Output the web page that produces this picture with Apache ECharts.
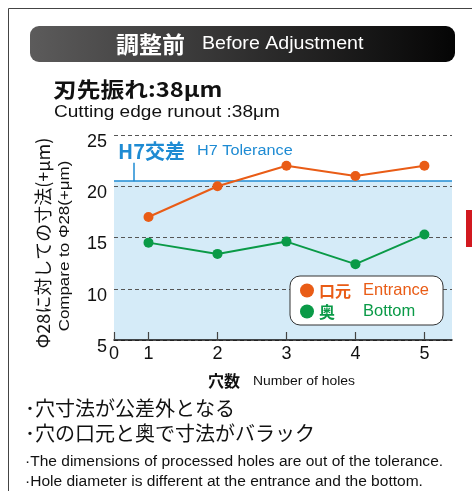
<!DOCTYPE html>
<html>
<head>
<meta charset="utf-8">
<script src="https://cdn.jsdelivr.net/npm/echarts@6/dist/echarts.min.js"></script>
<style>
  html, body { margin: 0; padding: 0; background: #fff; }
  #chart { width: 472px; height: 491px; }
</style>
</head>
<body>
<div id="chart"></div>
<script>
// Hole number along the x axis
const holes = [1, 2, 3, 4, 5];
// Diameter relative to Φ28 (+μm), measured at the hole entrance and at the bottom
const entranceValues = [17, 20, 22, 21, 22];
const bottomValues = [14.5, 13.4, 14.6, 12.4, 15.3];
// H7 tolerance band upper limit (+μm)
const h7Upper = 20.5;
// Axis ranges and tick labels
const xTickValues = [0.5, 1, 2, 3, 4, 5];
const xTickLabels = ['0', '1', '2', '3', '4', '5'];
const yTicks = [5, 10, 15, 20, 25];

const JP = '"Noto Sans CJK JP", sans-serif';
const EN = '"Liberation Sans", Arial, sans-serif';
const ORANGE = '#e95c16';
const GREEN = '#0a9a47';
const BLUE = '#1e8bd3';
const INK = '#111';

const chart = echarts.init(document.getElementById('chart'), null, { renderer: 'canvas' });

// left-aligned, vertically centred text with optional horizontal stretch
function label(x, y, text, size, opts) {
  opts = opts || {};
  return {
    type: 'text', x: x, y: y, z: opts.z || 1,
    scaleX: opts.sx || 1,
    rotation: opts.rot || 0,
    style: {
      text: text, fill: opts.color || INK, fontSize: size,
      fontFamily: opts.font || EN, fontWeight: opts.bold ? 'bold' : 'normal',
      align: opts.align || 'left', verticalAlign: 'middle'
    }
  };
}

const option = {
  backgroundColor: '#fff',
  animation: false,
  grid: { left: 114, right: 20, top: 135, bottom: 151, containLabel: false },
  xAxis: {
    type: 'value',
    min: 0.5,
    max: 5.4,
    z: 4,
    axisLine: { show: true, lineStyle: { color: '#111', width: 1.5 } },
    axisTick: {
      show: true, inside: true, length: 8,
      customValues: xTickValues,
      lineStyle: { color: '#444', width: 1.2 }
    },
    axisLabel: {
      customValues: xTickValues,
      formatter: v => xTickLabels[xTickValues.indexOf(v)] ?? '',
      fontSize: 18, color: INK, fontFamily: EN, margin: 5
    },
    splitLine: { show: false }
  },
  yAxis: {
    type: 'value',
    min: yTicks[0],
    max: yTicks[yTicks.length - 1],
    interval: 5,
    z: 3,
    axisLine: { show: false },
    axisTick: { show: false },
    axisLabel: {
      fontSize: 18, color: INK, fontFamily: EN,
      margin: 7, verticalAlign: 'top', lineHeight: 14
    },
    splitLine: { show: true, lineStyle: { color: '#555', width: 1, type: [4, 3] } }
  },
  legend: {
    left: 290, top: 276,
    orient: 'vertical',
    icon: 'circle',
    itemWidth: 14, itemHeight: 14, itemGap: 4,
    padding: [6, 14, 5, 10],
    backgroundColor: '#fff',
    borderColor: '#333', borderWidth: 1, borderRadius: 10,
    selectedMode: false,
    z: 10,
    data: ['口元', '奥'],
    formatter: n => n === '口元' ? '{oj|口元}{oe|Entrance}' : '{gj|奥}{ge|Bottom}',
    textStyle: {
      lineHeight: 16,
      rich: {
        oj: { color: ORANGE, fontSize: 16, fontWeight: 'bold', fontFamily: JP, width: 44 },
        oe: { color: ORANGE, fontSize: 16.5, fontFamily: EN },
        gj: { color: GREEN, fontSize: 16, fontWeight: 'bold', fontFamily: JP, width: 44 },
        ge: { color: GREEN, fontSize: 16.5, fontFamily: EN }
      }
    }
  },
  series: [
    {
      // tolerance band and its upper limit
      name: 'H7',
      type: 'scatter',
      data: [],
      z: 1,
      silent: true,
      markArea: {
        silent: true,
        itemStyle: { color: '#d5ebf8' },
        data: [[{ xAxis: 0.5, yAxis: yTicks[0] }, { xAxis: 5.4, yAxis: h7Upper }]]
      },
      markLine: {
        silent: true,
        symbol: 'none',
        label: { show: false },
        lineStyle: { color: BLUE, width: 1.5, type: 'solid' },
        data: [
          [{ coord: [0.5, h7Upper] }, { coord: [5.4, h7Upper] }],
          [{ coord: [0.78, h7Upper] }, { coord: [0.78, 22.3] }]
        ]
      }
    },
    {
      name: '口元',
      type: 'line',
      z: 5,
      data: holes.map((h, i) => [h, entranceValues[i]]),
      symbol: 'circle', symbolSize: 10,
      itemStyle: { color: ORANGE },
      lineStyle: { color: ORANGE, width: 2 }
    },
    {
      name: '奥',
      type: 'line',
      z: 5,
      data: holes.map((h, i) => [h, bottomValues[i]]),
      symbol: 'circle', symbolSize: 10,
      itemStyle: { color: GREEN },
      lineStyle: { color: GREEN, width: 2 }
    }
  ],
  graphic: [
    // outer frame
    { type: 'rect', z: 0, shape: { x: 8.5, y: 8.5, width: 600, height: 600 },
      style: { fill: 'none', stroke: '#444', lineWidth: 1 } },
    // red side marker
    { type: 'rect', z: 0, shape: { x: 466, y: 210, width: 8, height: 37 },
      style: { fill: '#d21920' } },
    // header bar
    { type: 'rect', z: 0, shape: { x: 30, y: 26, width: 425, height: 36, r: 9 },
      style: {
        fill: new echarts.graphic.LinearGradient(0, 0, 1, 0, [
          { offset: 0, color: '#5c5b5b' }, { offset: 1, color: '#050505' }
        ])
      } },
    label(116, 44, '調整前', 23, { font: JP, bold: true, color: '#fff' }),
    label(202, 44, 'Before Adjustment', 18, { sx: 1.09, color: '#fff' }),
    // runout caption
    label(53, 89, '刃先振れ:38μm', 21, { font: JP, bold: true, sx: 1.13 }),
    label(54, 112, 'Cutting edge runout :38μm', 17, { sx: 1.12 }),
    // tolerance label
    label(118, 151, 'H7交差', 20, { font: JP, bold: true, color: BLUE }),
    label(197, 151, 'H7 Tolerance', 14, { sx: 1.16, color: BLUE }),
    // y axis titles (rotated)
    label(43, 243, 'Φ28に対しての寸法(+μm)', 18, { font: JP, align: 'center', rot: Math.PI / 2 }),
    label(65, 246, 'Compare to Φ28(+μm)', 15, { align: 'center', rot: Math.PI / 2, sx: 1.13 }),
    // x axis title
    label(208, 381, '穴数', 16, { font: JP, bold: true }),
    label(253, 381, 'Number of holes', 13, { sx: 1.07 }),
    // notes
    label(25, 408, '･穴寸法が公差外となる', 20, { font: JP }),
    label(25, 433, '･穴の口元と奥で寸法がバラック', 20, { font: JP }),
    label(25, 462, '·The dimensions of processed holes are out of the tolerance.', 14, { sx: 1.11 }),
    label(25, 482, '·Hole diameter is different at the entrance and the bottom.', 14, { sx: 1.11 })
  ]
};

chart.setOption(option);
</script>
</body>
</html>
